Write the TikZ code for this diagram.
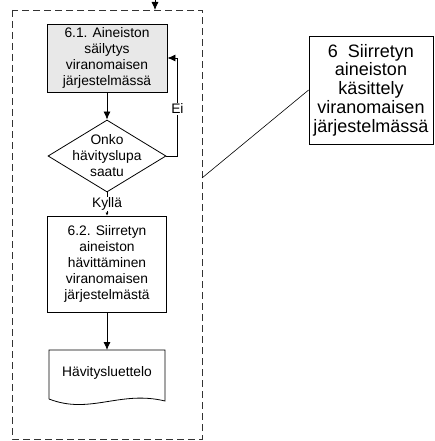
\documentclass[tikz,border=0pt]{standalone}
\usepackage{fontspec}
\setmainfont{Liberation Sans}
\usetikzlibrary{shapes.geometric,arrows.meta}
\begin{document}
\begin{tikzpicture}[x=1pt,y=-1pt,
  txt/.style={align=center, font=\fontsize{13.8}{16}\selectfont},
  stepbox/.style={txt, draw, line width=0.8pt, inner sep=0pt},
  arr/.style={line width=0.8pt, -{Latex[length=8pt,width=7pt]}},
  frame/.style={line width=0.8pt, draw=black!80, dash pattern=on 7pt off 4pt}]
\useasboundingbox (0,0) rectangle (434,441);
\draw [frame] (12,10) rectangle (202,439);
\coordinate (top) at (155,0);
\coordinate (ftop) at (155,10);
\coordinate (fside) at (202,178);
\node [stepbox, fill=black!9, minimum width=120, minimum height=68] (box61) at (107,58)
  {6.1. Aineiston\\säilytys\\viranomaisen\\järjestelmässä};
\node [diamond, draw, line width=0.8pt, minimum width=118, minimum height=72, aspect=1.64, inner sep=0pt,
  label={[txt]center:Onko\\hävityslupa\\saatu}] (dec) at (107,156) {};
\node [stepbox, minimum width=119, minimum height=96] (box62) at (107,264)
  {6.2. Siirretyn\\aineiston\\hävittäminen\\viranomaisen\\järjestelmästä};
\node [txt] (doc) at (107,373) {Hävitysluettelo};
\draw [line width=0.8pt] (49,399) -- (49,350) -- (165,350) -- (165,401)
  .. controls (120,390) and (90,415) .. (49,399);
\node [stepbox, font=\fontsize{18}{18.7}\selectfont, minimum width=124, minimum height=108] (rbox) at (371,90)
  {6\ \ Siirretyn\\aineiston\\käsittely\\viranomaisen\\järjestelmässä};
% connectors
\draw [arr] (top) -- (ftop);
\draw [arr] (box61) -- (dec);
\draw [arr] (dec.east) -- ++(11,0) |- (box61.east) node [txt, pos=0.24, fill=white, inner sep=1pt] {Ei};
\draw [line width=0.8pt, -{Latex[length=3pt,width=3pt]}] (dec.south) -- (box62.north)
  node [txt, midway, fill=white, inner sep=1pt] {Kyllä};
\draw [arr] (box62) -- (49+58,350);
\draw [line width=0.6pt] (fside) -- (rbox.west);
\end{tikzpicture}
\end{document}
